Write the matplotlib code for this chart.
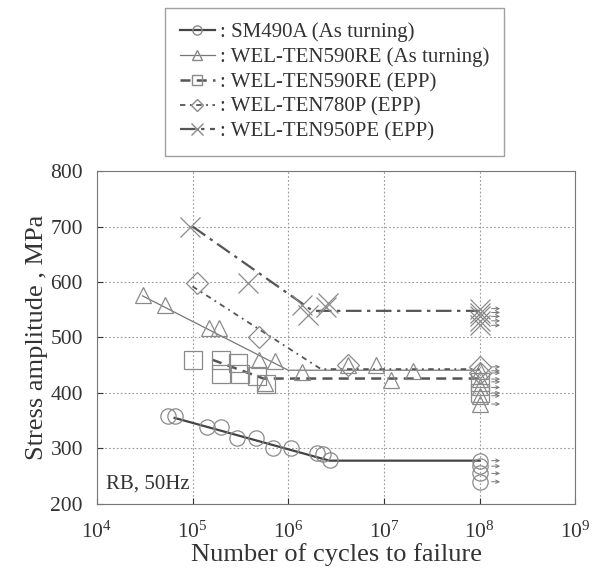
import matplotlib
matplotlib.use('Agg')
import matplotlib.pyplot as plt
import numpy as np
from matplotlib.ticker import LogLocator, NullLocator, MultipleLocator

plt.rcParams['font.family'] = ['Liberation Serif', 'DejaVu Serif']
plt.rcParams['mathtext.fontset'] = 'custom'
plt.rcParams['mathtext.rm'] = 'Liberation Serif'

# SM490A (As turning)
sm_n = [5.6e4, 6.5e4, 1.4e5, 2.0e5, 2.9e5, 4.6e5, 6.9e5, 1.07e6, 2.0e6, 2.3e6, 2.7e6]
sm_s = [358, 358, 339, 339, 318, 318, 300, 300, 291, 290, 280]
sm_run = [278, 268, 255, 240]
sm_fit_n = [6.5e4, 2.7e6, 1e8]
sm_fit_s = [355, 278, 278]

# WEL-TEN590RE (As turning)
re_n = [3.0e4, 5.1e4, 1.5e5, 1.9e5, 5.0e5, 7.2e5, 5.7e5, 1.4e6, 4.2e6, 8.3e6, 1.2e7, 2.0e7]
re_s = [577, 559, 517, 517, 460, 458, 418, 438, 451, 451, 423, 440]
re_run = [440, 425, 410, 395, 380]
re_fit_n = [3.0e4, 1.0e6, 1e8]
re_fit_s = [575, 441, 441]

# WEL-TEN590RE (EPP)
rep_n = [1.0e5, 2.0e5, 2.0e5, 3.0e5, 3.1e5, 4.7e5, 5.9e5]
rep_s = [460, 460, 434, 454, 434, 430, 417]
rep_run = [420, 400]
rep_fit_n = [1.6e5, 5.5e5, 1e8]
rep_fit_s = [460, 426, 426]

# WEL-TEN780P (EPP)
p78_n = [1.1e5, 4.9e5, 4.2e6]
p78_s = [599, 501, 450]
p78_run = [447, 436]
p78_fit_n = [1.0e5, 2.2e6, 1e8]
p78_fit_s = [592, 443, 443]

# WEL-TEN950PE (EPP)
p95_n = [9.5e4, 3.8e5, 1.4e6, 1.6e6, 2.5e6, 2.6e6]
p95_s = [700, 599, 559, 540, 555, 562]
p95_run = [552, 545, 538, 530, 522]
p95_fit_n = [1.0e5, 1.8e6, 1e8]
p95_fit_s = [700, 548, 548]

RUNOUT_N = 1e8

fig = plt.figure(figsize=(5.98, 5.72), dpi=100)
ax = fig.add_axes([0.162, 0.119, 0.800, 0.582])

mc = '#8a8a8a'
series = [
    (sm_n, sm_s, sm_run, sm_fit_n, sm_fit_s, 'o', '-', 1.6, '#444444', 11,
     ': SM490A (As turning)'),
    (re_n, re_s, re_run, re_fit_n, re_fit_s, '^', '-', 0.9, '#777777', 12,
     ': WEL-TEN590RE (As turning)'),
    (rep_n, rep_s, rep_run, rep_fit_n, rep_fit_s, 's', (0, (4, 2.5)), 1.8, '#555555', 13,
     ': WEL-TEN590RE (EPP)'),
    (p78_n, p78_s, p78_run, p78_fit_n, p78_fit_s, 'D', (0, (3, 2.5, 1, 2.5)), 1.3, '#555555', 11,
     ': WEL-TEN780P (EPP)'),
    (p95_n, p95_s, p95_run, p95_fit_n, p95_fit_s, 'x', (0, (7, 2.5, 1.5, 2.5)), 1.6, '#555555', 15,
     ': WEL-TEN950PE (EPP)'),
]

handles = []
for n, s, run, fn, fs, mk, ls, lw, lc, ms, lab in series:
    ax.plot(fn, fs, linestyle=ls, color=lc, linewidth=lw, zorder=3)
    ax.plot(n, s, linestyle='none', marker=mk, markersize=ms, markerfacecolor='none',
            markeredgecolor=mc, markeredgewidth=0.9, zorder=4)
    ax.plot([RUNOUT_N] * len(run), run, linestyle='none', marker=mk, markersize=ms,
            markerfacecolor='none', markeredgecolor=mc, markeredgewidth=0.9, zorder=4)
    for v in run:
        ax.annotate('', xy=(1.75e8, v), xytext=(1.25e8, v),
                    arrowprops=dict(arrowstyle='->', color='#777777', lw=0.7,
                                    mutation_scale=6), zorder=5)
    h, = plt.plot([], [], linestyle=ls, color=lc, linewidth=lw, marker=mk,
                  markersize=ms * 0.6, markerfacecolor='none', markeredgecolor=mc)
    handles.append((h, lab))

ax.set_xscale('log')
ax.set_xlim(1e4, 1e9)
ax.set_ylim(200, 800)
ax.xaxis.set_major_locator(LogLocator(base=10, numticks=10))
ax.xaxis.set_minor_locator(NullLocator())
ax.yaxis.set_major_locator(MultipleLocator(100))
ax.grid(True, linestyle=(0, (1.5, 2)), color='#999999', linewidth=0.8, zorder=0)
ax.tick_params(direction='in', labelsize=15.5, colors='#333333', length=4)
ax.tick_params(axis='x', pad=13)
ax.tick_params(axis='y', pad=10)
for sp in ax.spines.values():
    sp.set_color('#777777')

ax.set_xlabel('Number of cycles to failure', fontsize=19, color='#333333', labelpad=0)
ax.set_ylabel('Stress amplitude , MPa', fontsize=19, color='#333333', labelpad=2)
ax.text(0.02, 0.03, 'RB, 50Hz', transform=ax.transAxes, fontsize=15,
        color='#333333', va='bottom', ha='left')

leg = fig.legend([h for h, _ in handles], [l for _, l in handles],
                 loc='upper left', bbox_to_anchor=(0.276, 0.986), fontsize=15,
                 frameon=True, fancybox=False, handlelength=1.7, handletextpad=0.25,
                 labelspacing=0.25, borderpad=0.7, borderaxespad=0)
leg.get_frame().set_edgecolor('#888888')
leg.get_frame().set_linewidth(1.0)
for t in leg.get_texts():
    t.set_color('#333333')

plt.savefig('out.png', dpi=100)
